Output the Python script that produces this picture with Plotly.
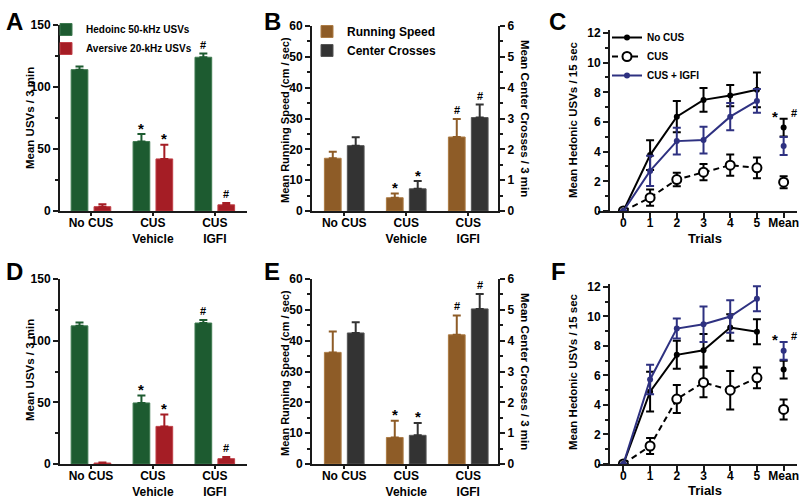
import plotly.graph_objects as go

# ---------------- data ----------------
groups = ["No CUS", "CUS<br>Vehicle", "CUS<br>IGFI"]

# Panel A (Mean USVs / 3 min)
a_hedonic = [114, 56, 124]
a_hedonic_err = [2.5, 6, 3]
a_hedonic_sig = ["", "*", "#"]
a_aversive = [3.5, 42, 5]
a_aversive_err = [2, 11.5, 1.5]
a_aversive_sig = ["", "*", "#"]

# Panel D
d_hedonic = [112, 49.5, 114.3]
d_hedonic_err = [2.8, 6, 2.5]
d_hedonic_sig = ["", "*", "#"]
d_aversive = [0.8, 30.5, 4.3]
d_aversive_err = [0.4, 9.7, 1.4]
d_aversive_sig = ["", "*", "#"]

# Panel B (running speed left, center crosses right)
b_speed = [17.1, 4.3, 24.0]
b_speed_err = [2.1, 1.4, 5.8]
b_speed_sig = ["", "*", "#"]
b_cross = [2.12, 0.72, 3.03]
b_cross_err = [0.27, 0.25, 0.42]
b_cross_sig = ["", "*", "#"]

# Panel E
e_speed = [36.2, 8.6, 41.9]
e_speed_err = [6.8, 5.4, 6.3]
e_speed_sig = ["", "*", "#"]
e_cross = [4.25, 0.93, 5.03]
e_cross_err = [0.35, 0.4, 0.48]
e_cross_sig = ["", "*", "#"]

# Panels C / F (hedonic USVs per trial)
trials = [0, 1, 2, 3, 4, 5]
trial_labels = ["0", "1", "2", "3", "4", "5", "Mean"]
series_names = ["No CUS", "CUS", "CUS + IGFI"]

c_nocus = [0, 3.77, 6.36, 7.49, 7.78, 8.17]
c_nocus_err = [0, 1.0, 1.06, 0.8, 0.72, 1.17]
c_cus = [0, 0.9, 2.12, 2.62, 3.09, 2.91]
c_cus_err = [0, 0.55, 0.45, 0.55, 0.72, 0.7]
c_igf = [0, 2.7, 4.71, 4.78, 6.36, 7.42]
c_igf_err = [0, 1.02, 0.9, 0.9, 0.92, 0.8]
c_mean = [5.62, 1.94, 4.38]
c_mean_err = [0.6, 0.4, 0.6]

f_nocus = [0, 4.9, 7.4, 7.71, 9.25, 8.96]
f_nocus_err = [0, 1.35, 0.95, 1.1, 0.9, 0.85]
f_cus = [0, 1.22, 4.4, 5.53, 5.0, 5.84]
f_cus_err = [0, 0.55, 0.95, 1.0, 1.3, 0.7]
f_igf = [0, 5.73, 9.18, 9.47, 10.0, 11.2]
f_igf_err = [0, 1.0, 0.68, 1.2, 1.1, 0.85]
f_mean = [6.4, 3.7, 7.67]
f_mean_err = [0.6, 0.68, 0.6]

# ---------------- style ----------------
W, H = 800, 500
FONT = "Liberation Sans, Arial, sans-serif"
AXC = "#1a1a1a"
GREEN, GREEN_L = "#1d5b30", "#3f7a50"
RED, RED_L = "#a51d25", "#c04048"
BROWN, BROWN_L = "#8e5c27", "#ad7c45"
DARK, DARK_L = "#333333", "#555555"
BLUE = "#2e3181"
BW, OFF1, OFF2 = 0.27, -0.32, 0.05


def fx(p):
    return p / W


def fy(p):
    return 1 - p / H


fig = go.Figure()
annotations = []


def add_bars(xa, ya, vals, errs, sigs, color, edge, off, name, legend, show):
    fig.add_trace(go.Bar(
        x=groups, y=vals, xaxis=xa, yaxis=ya, name=name, width=BW, offset=off,
        marker=dict(color=color, line=dict(color=edge, width=1)),
        error_y=dict(type="data", array=errs, arrayminus=[0] * len(errs),
                     symmetric=False, color=color, thickness=2, width=4),
        legend=legend, showlegend=show, hoverinfo="skip"))
    for i, s in enumerate(sigs):
        if s:
            annotations.append(dict(
                x=i + off + BW / 2, y=vals[i] + errs[i], xref=xa, yref=ya,
                text=s, showarrow=False, yanchor="middle",
                yshift=6 if s == "*" else 9,
                font=dict(size=15 if s == "*" else 11, color="black",
                          family=FONT, weight="bold")))


# Panel A
add_bars("x", "y", a_hedonic, a_hedonic_err, a_hedonic_sig, GREEN, GREEN_L, OFF1,
         "Hedoinc 50-kHz USVs", "legend", True)
add_bars("x", "y", a_aversive, a_aversive_err, a_aversive_sig, RED, RED_L, OFF2,
         "Aversive 20-kHz USVs", "legend", True)
# Panel D
add_bars("x4", "y5", d_hedonic, d_hedonic_err, d_hedonic_sig, GREEN, GREEN_L, OFF1,
         "Hedoinc 50-kHz USVs", "legend", False)
add_bars("x4", "y5", d_aversive, d_aversive_err, d_aversive_sig, RED, RED_L, OFF2,
         "Aversive 20-kHz USVs", "legend", False)
# Panel B
add_bars("x2", "y2", b_speed, b_speed_err, b_speed_sig, BROWN, BROWN_L, OFF1,
         "Running Speed", "legend2", True)
add_bars("x2", "y3", b_cross, b_cross_err, b_cross_sig, DARK, DARK_L, OFF2,
         "Center Crosses", "legend2", True)
# Panel E
add_bars("x5", "y6", e_speed, e_speed_err, e_speed_sig, BROWN, BROWN_L, OFF1,
         "Running Speed", "legend2", False)
add_bars("x5", "y7", e_cross, e_cross_err, e_cross_sig, DARK, DARK_L, OFF2,
         "Center Crosses", "legend2", False)


def add_lines(xa, ya, nocus, nocus_e, cus, cus_e, igf, igf_e, means, means_e, show):
    mean_x = [len(trials)]
    specs = [
        (1, cus, cus_e, means[1], means_e[1], "black", "6px,4px",
         dict(symbol="circle", size=9, color="white", line=dict(color="black", width=2))),
        (0, nocus, nocus_e, means[0], means_e[0], "black", "solid",
         dict(symbol="circle", size=6, color="black")),
        (2, igf, igf_e, means[2], means_e[2], BLUE, "solid",
         dict(symbol="circle", size=6, color=BLUE)),
    ]
    for k, ys, es, m, me, col, dash, mk in specs:
        fig.add_trace(go.Scatter(
            x=trials, y=ys, xaxis=xa, yaxis=ya, mode="lines+markers",
            name=series_names[k], legend="legend3", legendrank=k + 1,
            showlegend=show, line=dict(color=col, width=2, dash=dash), marker=mk,
            error_y=dict(type="data", array=es, color=col, thickness=2, width=4),
            hoverinfo="skip"))
        fig.add_trace(go.Scatter(
            x=mean_x, y=[m], xaxis=xa, yaxis=ya, mode="markers", showlegend=False,
            marker=mk, error_y=dict(type="data", array=[me], color=col, thickness=2, width=4),
            hoverinfo="skip"))
    top = max(v + e for v, e in zip(means, means_e))
    annotations.append(dict(x=mean_x[0], y=top, xref=xa, yref=ya, text="*",
                            showarrow=False, xshift=-9, yshift=2, yanchor="middle",
                            font=dict(size=15, color="black", family=FONT, weight="bold")))
    annotations.append(dict(x=mean_x[0], y=top, xref=xa, yref=ya, text="#",
                            showarrow=False, xshift=10, yshift=6, yanchor="middle",
                            font=dict(size=11, color="black", family=FONT, weight="bold")))


add_lines("x3", "y4", c_nocus, c_nocus_err, c_cus, c_cus_err, c_igf, c_igf_err,
          c_mean, c_mean_err, True)
add_lines("x6", "y8", f_nocus, f_nocus_err, f_cus, f_cus_err, f_igf, f_igf_err,
          f_mean, f_mean_err, False)

# ---------------- axes ----------------
tickfont = dict(family=FONT, size=12, color="black", weight="bold")
base_line = dict(showline=True, linewidth=2, linecolor=AXC, showgrid=False,
                 zeroline=False, tickfont=tickfont, fixedrange=True, automargin=False)


def cat_x(x0, x1, anchor, rng):
    return dict(domain=[fx(x0), fx(x1)], anchor=anchor, type="category",
                range=rng, ticks="outside", ticklen=3, tickwidth=2, tickcolor=AXC,
                ticklabelstandoff=-3, **base_line)


def val_y(y0, y1, anchor, rng, dtick, minor=None, side="left", overlaying=None,
          position=None):
    d = dict(domain=[fy(y1), fy(y0)], range=rng, dtick=dtick,
             ticks="outside", ticklen=5, tickwidth=2, tickcolor=AXC, side=side,
             **base_line)
    if position is not None:
        d["anchor"] = "free"
        d["position"] = position
    else:
        d["anchor"] = anchor
    if minor:
        d["minor"] = dict(dtick=minor, ticks="outside", ticklen=3, tickwidth=1.5,
                          tickcolor=AXC, showgrid=False)
    if overlaying:
        d["overlaying"] = overlaying
    return d


def num_x(x0, x1, anchor, rng):
    return dict(domain=[fx(x0), fx(x1)], anchor=anchor, range=rng,
                tickvals=list(range(len(trial_labels))), ticktext=trial_labels,
                ticks="outside", ticklen=5, tickwidth=2, tickcolor=AXC,
                ticklabelstandoff=-5, **base_line)


layout_axes = dict(
    xaxis=cat_x(60, 247, "y", [-0.5, 2.52]),
    yaxis=val_y(25, 211, "x", [0, 150], 50, minor=25),
    xaxis2=cat_x(312, 498, "y2", [-0.52, 2.48]),
    yaxis2=val_y(26, 211, "x2", [0, 60], 10, minor=5),
    yaxis3=val_y(26, 211, "x2", [0, 6], 1, minor=0.5, side="right", overlaying="y2"),
    xaxis3=num_x(598, 797, "y4", [-0.95, 6.5]),
    yaxis4=val_y(30, 211, "x3", [0, 12.2], 2, minor=1, position=fx(609)),
    xaxis4=cat_x(60, 247, "y5", [-0.5, 2.52]),
    yaxis5=val_y(279, 464, "x4", [0, 150], 50, minor=25),
    xaxis5=cat_x(312, 498, "y6", [-0.52, 2.48]),
    yaxis6=val_y(279, 464, "x5", [0, 60], 10, minor=5),
    yaxis7=val_y(279, 464, "x5", [0, 6], 1, minor=0.5, side="right", overlaying="y6"),
    xaxis6=num_x(598, 797, "y8", [-0.95, 6.5]),
    yaxis8=val_y(284, 464, "x6", [0, 12.2], 2, minor=1, position=fx(609)),
)

# ---------------- text ----------------
def txt(x, y, s, size, angle=0, xanchor="center", yanchor="middle"):
    annotations.append(dict(x=fx(x), y=fy(y), xref="paper", yref="paper", text=s,
                            showarrow=False, textangle=angle, xanchor=xanchor,
                            yanchor=yanchor,
                            font=dict(family=FONT, size=size, color="black", weight="bold")))


for letter, lx, ly in [("A", 4, 6), ("B", 262, 6), ("C", 547, 6),
                       ("D", 4, 256), ("E", 262, 256), ("F", 549, 256)]:
    txt(lx, ly, letter, 24, xanchor="left", yanchor="top")

txt(30, 118, "Mean USVs / 3 min", 11.5, -90)
txt(30, 370, "Mean USVs / 3 min", 11.5, -90)
txt(285, 120, "Mean Running Speed (cm / sec)", 11, -90)
txt(285, 373, "Mean Running Speed (cm / sec)", 11, -90)
txt(525, 118, "Mean Center Crosses / 3 min", 11.5, 90)
txt(525, 371, "Mean Center Crosses / 3 min", 11.5, 90)
txt(573, 120, "Mean Hedonic USVs / 15 sec", 11.5, -90)
txt(573, 372, "Mean Hedonic USVs / 15 sec", 11.5, -90)
txt(705, 238, "Trials", 13)
txt(705, 490, "Trials", 13)

legfont = lambda s: dict(family=FONT, size=s, color="black", weight="bold")
fig.update_layout(
    width=W, height=H, margin=dict(l=0, r=0, t=0, b=0, autoexpand=False),
    paper_bgcolor="white", plot_bgcolor="white", barmode="overlay",
    font=dict(family=FONT, color="black", weight="bold"),
    annotations=annotations,
    legend=dict(x=fx(46), y=fy(15), xanchor="left", yanchor="top", font=legfont(10),
                bgcolor="rgba(0,0,0,0)", itemwidth=30, tracegroupgap=0),
    legend2=dict(x=fx(307), y=fy(17), xanchor="left", yanchor="top", font=legfont(12),
                 bgcolor="rgba(0,0,0,0)", itemwidth=30, tracegroupgap=0),
    legend3=dict(x=fx(607), y=fy(23), xanchor="left", yanchor="top", font=legfont(10),
                 bgcolor="rgba(0,0,0,0)", itemwidth=30, tracegroupgap=0),
    **layout_axes,
)

fig.write_html("out.html", post_script="document.body.style.margin='0';",
               config={"displayModeBar": False})
